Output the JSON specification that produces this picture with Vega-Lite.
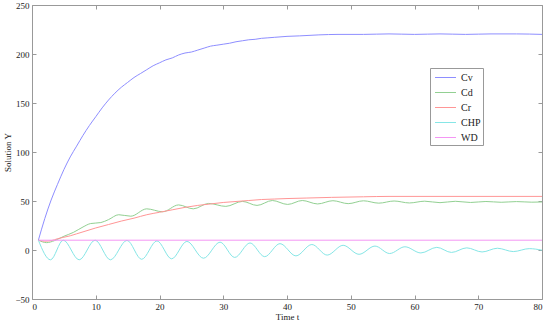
{
  "$schema": "https://vega.github.io/schema/vega-lite/v6.json",
  "width": 510,
  "height": 294,
  "autosize": {"type": "none"},
  "padding": {"left": 32, "top": 5, "right": 8, "bottom": 25},
  "background": "white",
  "config": {
    "view": {"stroke": null},
    "font": "Liberation Serif",
    "axis": {
      "labelFont": "Liberation Serif",
      "titleFont": "Liberation Serif",
      "labelFontSize": 9,
      "titleFontSize": 9,
      "titleFontWeight": "normal",
      "labelColor": "#222",
      "titleColor": "#222",
      "domainColor": "#999",
      "tickColor": "#999",
      "grid": false,
      "tickSize": -4
    }
  },
  "data": {
    "values": [
      {"s":"Cv","t":1,"y":10},{"s":"Cv","t":2,"y":32},{"s":"Cv","t":3,"y":51},{"s":"Cv","t":4,"y":67},{"s":"Cv","t":5,"y":82},{"s":"Cv","t":6,"y":95},{"s":"Cv","t":7,"y":106},{"s":"Cv","t":8,"y":117},{"s":"Cv","t":9,"y":127},{"s":"Cv","t":10,"y":136},{"s":"Cv","t":11,"y":145},{"s":"Cv","t":12,"y":153},{"s":"Cv","t":13,"y":160},{"s":"Cv","t":14,"y":166},{"s":"Cv","t":15,"y":171},{"s":"Cv","t":16,"y":176},{"s":"Cv","t":17,"y":180},{"s":"Cv","t":18,"y":184},{"s":"Cv","t":19,"y":188},{"s":"Cv","t":20,"y":191},{"s":"Cv","t":21,"y":194},{"s":"Cv","t":22,"y":196},{"s":"Cv","t":23,"y":199},{"s":"Cv","t":24,"y":201},{"s":"Cv","t":25,"y":202},{"s":"Cv","t":26,"y":204},{"s":"Cv","t":27,"y":206},{"s":"Cv","t":28,"y":208},{"s":"Cv","t":29,"y":209},{"s":"Cv","t":30,"y":210},{"s":"Cv","t":31,"y":211},{"s":"Cv","t":32,"y":212.5},{"s":"Cv","t":33,"y":213.5},{"s":"Cv","t":34,"y":214.5},{"s":"Cv","t":35,"y":215},{"s":"Cv","t":36,"y":216},{"s":"Cv","t":37,"y":216.5},{"s":"Cv","t":38,"y":217},{"s":"Cv","t":40,"y":218},{"s":"Cv","t":42,"y":218.5},{"s":"Cv","t":45,"y":219.5},{"s":"Cv","t":48,"y":220},{"s":"Cv","t":52,"y":220},{"s":"Cv","t":56,"y":220.5},{"s":"Cv","t":60,"y":220},{"s":"Cv","t":64,"y":220.5},{"s":"Cv","t":68,"y":220},{"s":"Cv","t":72,"y":220.5},{"s":"Cv","t":76,"y":220.5},{"s":"Cv","t":80,"y":220},
      {"s":"Cd","t":1,"y":10},{"s":"Cd","t":2.3,"y":7.5},{"s":"Cd","t":3.5,"y":9.5},{"s":"Cd","t":5,"y":14},{"s":"Cd","t":6.5,"y":18},{"s":"Cd","t":8,"y":23.5},{"s":"Cd","t":9.2,"y":27},{"s":"Cd","t":10.8,"y":28},{"s":"Cd","t":12,"y":31},{"s":"Cd","t":13.6,"y":36},{"s":"Cd","t":15.5,"y":34.5},{"s":"Cd","t":18,"y":42},{"s":"Cd","t":20.5,"y":39},{"s":"Cd","t":23,"y":46},{"s":"Cd","t":25.3,"y":42},{"s":"Cd","t":27.7,"y":47.5},{"s":"Cd","t":30.4,"y":44.5},{"s":"Cd","t":33,"y":49.6},{"s":"Cd","t":35.3,"y":45.5},{"s":"Cd","t":37.7,"y":50.5},{"s":"Cd","t":40.1,"y":46.5},{"s":"Cd","t":42.4,"y":50.5},{"s":"Cd","t":44.8,"y":47},{"s":"Cd","t":47.2,"y":50.3},{"s":"Cd","t":49.6,"y":47.3},{"s":"Cd","t":52,"y":50.2},{"s":"Cd","t":54.4,"y":47.8},{"s":"Cd","t":56.8,"y":50},{"s":"Cd","t":59.2,"y":48},{"s":"Cd","t":61.6,"y":49.8},{"s":"Cd","t":64,"y":48.3},{"s":"Cd","t":66.4,"y":49.7},{"s":"Cd","t":68.8,"y":48.5},{"s":"Cd","t":71.2,"y":49.5},{"s":"Cd","t":73.6,"y":48.7},{"s":"Cd","t":76,"y":49.4},{"s":"Cd","t":78.4,"y":48.8},{"s":"Cd","t":80,"y":49},
      {"s":"Cr","t":1,"y":10},{"s":"Cr","t":2,"y":9},{"s":"Cr","t":3,"y":9.5},{"s":"Cr","t":4,"y":11.5},{"s":"Cr","t":5,"y":13},{"s":"Cr","t":6,"y":14.5},{"s":"Cr","t":7,"y":16.5},{"s":"Cr","t":8,"y":18.5},{"s":"Cr","t":10,"y":22.5},{"s":"Cr","t":12,"y":26},{"s":"Cr","t":14,"y":29.5},{"s":"Cr","t":16,"y":32.5},{"s":"Cr","t":18,"y":36},{"s":"Cr","t":20,"y":38.5},{"s":"Cr","t":22,"y":41},{"s":"Cr","t":24,"y":43.5},{"s":"Cr","t":26,"y":45.5},{"s":"Cr","t":28,"y":47},{"s":"Cr","t":30,"y":48.5},{"s":"Cr","t":32,"y":49.5},{"s":"Cr","t":34,"y":50.5},{"s":"Cr","t":36,"y":51.5},{"s":"Cr","t":38,"y":52},{"s":"Cr","t":40,"y":52.5},{"s":"Cr","t":43,"y":53},{"s":"Cr","t":47,"y":53.7},{"s":"Cr","t":52,"y":54.3},{"s":"Cr","t":56,"y":54.7},{"s":"Cr","t":80,"y":54.7},
      {"s":"CHP","t":1,"y":10},{"s":"CHP","t":2.9,"y":-10},{"s":"CHP","t":4.9,"y":10},{"s":"CHP","t":7.4,"y":-10},{"s":"CHP","t":9.9,"y":10},{"s":"CHP","t":12.3,"y":-10},{"s":"CHP","t":14.9,"y":9.8},{"s":"CHP","t":17.2,"y":-9.5},{"s":"CHP","t":19.6,"y":9.3},{"s":"CHP","t":21.9,"y":-9},{"s":"CHP","t":24.3,"y":8.8},{"s":"CHP","t":26.9,"y":-8.4},{"s":"CHP","t":29.5,"y":8},{"s":"CHP","t":31.8,"y":-7.6},{"s":"CHP","t":34.2,"y":7.2},{"s":"CHP","t":36.5,"y":-6.8},{"s":"CHP","t":38.9,"y":6.5},{"s":"CHP","t":41.4,"y":-6},{"s":"CHP","t":43.9,"y":5.6},{"s":"CHP","t":46.3,"y":-5.2},{"s":"CHP","t":48.8,"y":4.8},{"s":"CHP","t":51.3,"y":-4.4},{"s":"CHP","t":53.8,"y":4},{"s":"CHP","t":56.1,"y":-3.6},{"s":"CHP","t":58.5,"y":3.3},{"s":"CHP","t":61,"y":-3},{"s":"CHP","t":63.5,"y":2.7},{"s":"CHP","t":65.8,"y":-2.5},{"s":"CHP","t":68.2,"y":2.2},{"s":"CHP","t":70.6,"y":-2},{"s":"CHP","t":73,"y":1.8},{"s":"CHP","t":75.5,"y":-1.6},{"s":"CHP","t":78,"y":1.4},{"s":"CHP","t":80,"y":-0.2},
      {"s":"WD","t":1,"y":10},{"s":"WD","t":80,"y":10}
    ]
  },
  "layer": [
    {
      "mark": {"type": "line", "strokeWidth": 1, "interpolate": "monotone"},
      "encoding": {
        "x": {"field": "t", "type": "quantitative", "scale": {"domain": [0, 80], "nice": false},
              "axis": {"orient": "bottom", "values": [0,10,20,30,40,50,60,70,80], "title": "Time t", "labelPadding": 7, "titlePadding": 1}},
        "y": {"field": "y", "type": "quantitative", "scale": {"domain": [-50, 250], "nice": false},
              "axis": {"orient": "left", "values": [-50,0,50,100,150,200,250], "title": "Solution Y", "labelPadding": 7, "titlePadding": 2}},
        "color": {"field": "s", "type": "nominal",
                  "scale": {"domain": ["Cv","Cd","Cr","CHP","WD"], "range": ["#8e8eff","#92d092","#ff9696","#86e6e6","#f496f4"]},
                  "legend": {"title": null, "orient": "none", "legendX": 398, "legendY": 63,
                             "padding": 2, "symbolType": "M-1.5,0H1.5", "symbolSize": 196, "symbolStrokeWidth": 1,
                             "symbolOffset": 6, "labelOffset": 8, "rowPadding": 2,
                             "labelFont": "Liberation Serif", "labelFontSize": 10, "labelColor": "#222",
                             "strokeColor": "#999", "fillColor": "white"}}
      }
    },
    {
      "mark": {"type": "line", "strokeWidth": 1, "opacity": 0},
      "encoding": {
        "x": {"field": "t", "type": "quantitative", "axis": {"orient": "top", "values": [0,10,20,30,40,50,60,70,80], "labels": false, "title": null}},
        "y": {"field": "y", "type": "quantitative", "axis": {"orient": "right", "values": [-50,0,50,100,150,200,250], "labels": false, "title": null}},
        "detail": {"field": "s", "type": "nominal"}
      }
    }
  ],
  "resolve": {"axis": {"x": "independent", "y": "independent"}}
}
